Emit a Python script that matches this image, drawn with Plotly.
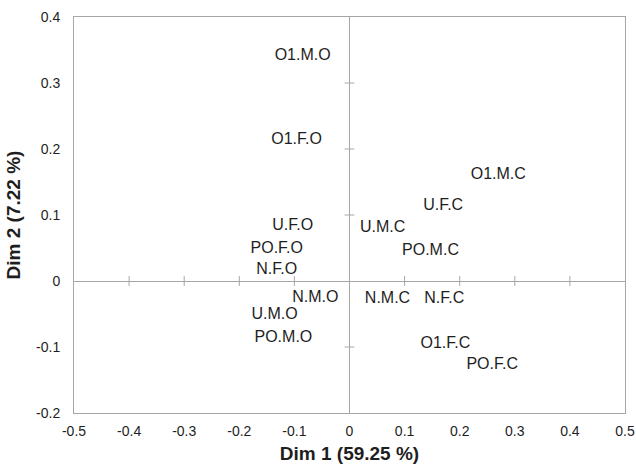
import plotly.graph_objects as go

labels = ["O1.M.O", "O1.F.O", "U.F.O", "PO.F.O", "N.F.O", "N.M.O", "U.M.O", "PO.M.O",
          "U.M.C", "N.M.C", "O1.M.C", "U.F.C", "PO.M.C", "N.F.C", "O1.F.C", "PO.F.C"]
dim1 = [-0.085, -0.096, -0.103, -0.132, -0.132, -0.062, -0.136, -0.120,
        0.060, 0.069, 0.270, 0.170, 0.147, 0.172, 0.174, 0.259]
dim2 = [0.341, 0.213, 0.084, 0.048, 0.016, -0.025, -0.052, -0.087,
        0.081, -0.027, 0.160, 0.113, 0.046, -0.028, -0.096, -0.127]

x_ticks = [-0.5, -0.4, -0.3, -0.2, -0.1, 0, 0.1, 0.2, 0.3, 0.4, 0.5]
y_ticks = [-0.2, -0.1, 0, 0.1, 0.2, 0.3, 0.4]
x_tick_text = ["-0.5", "-0.4", "-0.3", "-0.2", "-0.1", "0", "0.1", "0.2", "0.3", "0.4", "0.5"]
y_tick_text = ["-0.2", "-0.1", "0", "0.1", "0.2", "0.3", "0.4"]

axis_gray = "#a6a6a6"
txt = "#1e1e1e"
font_family = "Liberation Sans, Arial, sans-serif"

fig = go.Figure()

# tick marks crossing the zero lines
inner_x = [v for v in x_ticks if v not in (-0.5, 0, 0.5)]
inner_y = [v for v in y_ticks if v not in (-0.2, 0, 0.4)]
fig.add_trace(go.Scatter(x=inner_x, y=[0] * len(inner_x), mode="markers",
                         marker=dict(symbol="line-ns-open", size=7, color=axis_gray,
                                     line=dict(color=axis_gray, width=1)),
                         hoverinfo="skip", showlegend=False))
fig.add_trace(go.Scatter(x=[0] * len(inner_y), y=inner_y, mode="markers",
                         marker=dict(symbol="line-ew-open", size=7, color=axis_gray,
                                     line=dict(color=axis_gray, width=1)),
                         hoverinfo="skip", showlegend=False))

fig.add_trace(go.Scatter(x=dim1, y=dim2, text=labels, mode="text",
                         textposition="middle center",
                         textfont=dict(family=font_family, size=16, color=txt),
                         showlegend=False))

fig.update_layout(
    width=636, height=468,
    margin=dict(l=74, r=11, t=17, b=55),
    paper_bgcolor="white", plot_bgcolor="white",
    font=dict(family=font_family, color=txt),
    xaxis=dict(range=[-0.5, 0.5], tickvals=x_ticks, ticktext=x_tick_text,
               showgrid=False, zeroline=True, zerolinecolor=axis_gray, zerolinewidth=1,
               showline=True, mirror=True, linecolor=axis_gray, linewidth=1,
               ticks="", tickfont=dict(size=14, color=txt), automargin=False,
               ticklabelstandoff=5,
               title=dict(text="<b>Dim 1 (59.25 %)</b>", font=dict(size=19, color=txt),
                          standoff=8)),
    yaxis=dict(range=[-0.2, 0.4], tickvals=y_ticks, ticktext=y_tick_text,
               showgrid=False, zeroline=True, zerolinecolor=axis_gray, zerolinewidth=1,
               showline=True, mirror=True, linecolor=axis_gray, linewidth=1,
               ticks="", tickfont=dict(size=14, color=txt), ticklabelstandoff=10,
               automargin=False,
               title=dict(text="<b>Dim 2 (7.22 %)</b>", font=dict(size=19, color=txt),
                          standoff=10)),
)

fig.write_html("out.html")
